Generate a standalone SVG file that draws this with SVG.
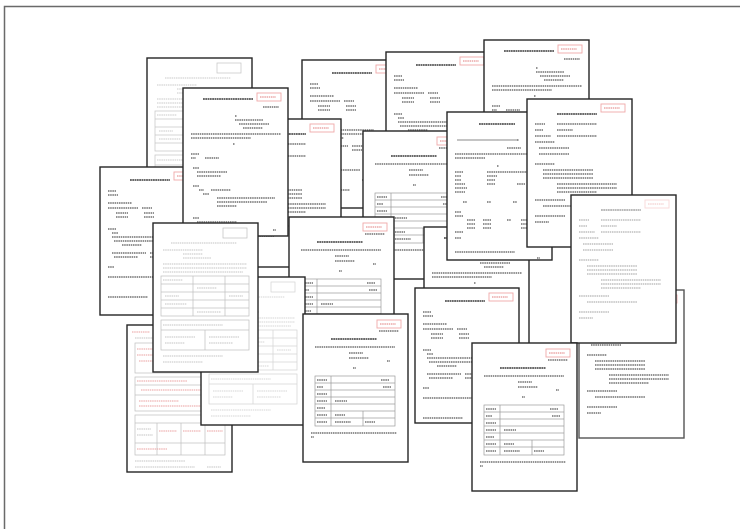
<svg xmlns="http://www.w3.org/2000/svg" xmlns:xlink="http://www.w3.org/1999/xlink" width="740" height="529" viewBox="0 0 740 529">
<style>
.pg{fill:#fff;stroke:#262626;stroke-width:1.4}
.t{fill:none;stroke:#707070;stroke-width:1.3;stroke-dasharray:1.5 .7}
.h{fill:none;stroke:#3a3a3a;stroke-width:1.6;stroke-dasharray:1.8 .5}
.st{fill:none;stroke:#f0a8a8;stroke-width:.9}
.sr{fill:none;stroke:#e07a7a;stroke-width:1;stroke-dasharray:1.5 .7}
.g{fill:none;stroke:#9a9a9a;stroke-width:.7}
.f{fill:none;stroke:#c4c4c4;stroke-width:1.2;stroke-dasharray:1.5 .7}
.fb{fill:none;stroke:#bdbdbd;stroke-width:.7}
.r{fill:none;stroke:#eaa0a0;stroke-width:1.1;stroke-dasharray:1.5 .7}
.bar{fill:none;stroke:#c4c4c4;stroke-width:2}
.frame{fill:none;stroke:#6a6a6a;stroke-width:1.5}
</style>
<defs>
<g id="tA">
<rect class="st" x="74" y="5" width="24" height="8"/><path class="sr" d="M77 9h16"/>
<path class="h" d="M20 11h50"/>
<path class="t" d="M80 19h16M52 28h2M52 32h28M56 36h30M60 40h20M8 46h90M8 50h60M50 56h2M8 66h8M8 70h5M22 70h14M10 80h6M14 84h30M14 88h24M10 98h6M16 102h5M28 102h20M20 106h6M34 110h58M34 114h50M34 118h20M10 130h6M14 134h40M90 142h3"/>
</g>
<g id="tB">
<rect class="st" x="74" y="5" width="24" height="8"/><path class="sr" d="M77 9h16"/>
<path class="h" d="M30 13h40"/>
<path class="t" d="M8 24h8M8 28h10M8 36h24M8 41h30M42 41h10M16 46h12M44 46h10M16 50h12M44 50h10M8 62h8M12 66h6M12 70h60M14 74h48M22 78h20M12 86h34M50 86h20M14 90h24M50 90h10M8 100h6M8 110h50M60 120h30M8 130h40"/>
</g>
<g id="tC">
<rect class="st" x="74" y="6" width="24" height="8"/><path class="sr" d="M77 10h16"/>
<path class="t" d="M76 17h20"/>
<path class="h" d="M28 25h46"/>
<path class="t" d="M12 33h80M46 39h14M46 44h20M84 47h3M50 54h3"/>
<rect class="g" x="12" y="62" width="80" height="50"/>
<path class="g" d="M12 69h80M12 76h80M12 83h80M12 90h80M12 97h80M12 104h80M28 62v50M60 97v15"/>
<path class="t" d="M14 66h10M14 73h6M14 80h10M14 87h10M14 94h8M14 101h10M14 108h10M32 87h12M32 101h10M32 108h16M62 108h10M78 66h8M80 73h8"/>
<path class="t" d="M8 119h86M8 123h3"/>
</g>
<g id="tD">
<rect class="fb" x="70" y="5" width="24" height="10"/>
<path class="f" d="M18 20h66M10 27h40M30 31h20M30 35h28M10 41h84M10 45h84M10 49h80"/>
<rect class="fb" x="8" y="53" width="88" height="40"/>
<path class="fb" d="M8 61h88M8 69h88M8 77h88M8 85h88M40 53v40M72 53v40"/>
<path class="f" d="M10 57h20M44 65h20M12 73h14M76 73h14M12 81h22M44 89h24"/>
<rect class="fb" x="8" y="97" width="88" height="30"/>
<path class="fb" d="M8 107h88M52 107v20"/>
<path class="f" d="M10 102h60M12 114h30M56 114h30M12 120h20M56 120h24M10 133h60M10 139h40"/>
</g>
<g id="tE">
<path class="r" d="M5 7h18M28 7h34"/>
<path class="f" d="M8 13h60"/>
<rect class="fb" x="8" y="18" width="90" height="30"/>
<path class="r" d="M10 24h40M10 30h70M12 36h60M30 42h40"/>
<rect class="fb" x="8" y="52" width="90" height="34"/>
<path class="fb" d="M8 60h90M8 70h90"/>
<path class="r" d="M10 56h50M14 65h60M12 76h40M12 81h70"/>
<rect class="fb" x="8" y="90" width="90" height="40"/>
<path class="fb" d="M8 98h90M30 98v32M54 98v32M78 98v32M8 118h90"/>
<path class="r" d="M32 106h18M56 106h18M80 106h16M10 124h30"/>
<path class="f" d="M10 104h14M10 110h16M8 136h50M8 142h60M80 142h14"/>
</g>
<g id="tF">
<path class="h" d="M32 12h36"/>
<path class="bar" d="M10 28h60"/>
<path class="t" d="M70 28h2M60 36h14M8 42h90M8 46h30M50 54h2M8 60h8M8 64h6M8 68h6M8 72h10M8 76h12M8 80h10M40 60h50M40 64h10M40 68h8M40 72h8M70 72h8M16 90h4M40 90h4M66 90h4M8 100h6M8 104h8M20 108h8M36 108h8M60 108h4M74 108h20M20 112h8M36 112h8M74 112h20M20 116h8M36 116h8M74 116h20M8 120h8M8 126h6M8 140h60M90 146h3"/>
</g>
<g id="tG">
<rect class="st" x="74" y="5" width="24" height="8"/><path class="sr" d="M77 9h16"/>
<path class="h" d="M30 15h40"/>
<path class="t" d="M8 25h10M30 25h40M8 31h8M30 31h16M8 37h16M30 37h40M8 43h20M12 49h30M12 55h30M8 65h20M16 71h50M16 75h50M16 79h50M30 85h60M30 89h60M30 93h40M8 101h30M16 107h50M8 117h30M8 123h14"/>
</g>
</defs>

<path class="frame" d="M4.5 529V6.5H740"/>

<g id="p1" transform="translate(147,58)"><rect class="pg" width="105" height="148"/><use href="#tD" opacity=".9"/></g>
<g id="p3" transform="translate(100,167)"><rect class="pg" width="105" height="148"/><use href="#tB"/></g>
<g id="p5" transform="translate(302,60)"><rect class="pg" width="105" height="148"/><use href="#tB"/></g>
<g id="p4" transform="translate(236,119)"><rect class="pg" width="105" height="148"/><use href="#tG"/></g>
<g id="p2" transform="translate(183,88)"><rect class="pg" width="105" height="148"/><use href="#tA"/></g>
<g id="p6" transform="translate(386,52)"><rect class="pg" width="105" height="148"/><use href="#tB"/></g>
<g id="p8" transform="translate(484,40)"><rect class="pg" width="105" height="148"/><use href="#tA"/></g>
<g id="p7" transform="translate(363,131)"><rect class="pg" width="105" height="148"/><use href="#tC"/></g>
<g id="p13" transform="translate(424,227)"><rect class="pg" width="105" height="148"/><use href="#tA"/></g>
<g id="p9" transform="translate(447,112)"><rect class="pg" width="105" height="148"/><use href="#tF"/></g>
<g id="p10" transform="translate(527,99)"><rect class="pg" width="105" height="148"/><use href="#tG"/></g>
<g id="p12" transform="translate(579,290)"><rect class="pg" width="105" height="148" style="stroke:#555"/><use href="#tG"/></g>
<g id="p11" transform="translate(571,195)"><rect class="pg" width="105" height="148"/><use href="#tG" opacity=".45"/></g>
<g id="p16" transform="translate(289,217)"><rect class="pg" width="105" height="148"/><use href="#tC"/></g>
<g id="p20" transform="translate(127,325)"><rect class="pg" width="105" height="147"/><use href="#tE"/></g>
<g id="p19" transform="translate(201,277)"><rect class="pg" width="104" height="148"/><use href="#tD" opacity=".7"/></g>
<g id="p18" transform="translate(153,223)"><rect class="pg" width="105" height="149"/><use href="#tD"/></g>
<g id="p17" transform="translate(303,314)"><rect class="pg" width="105" height="148"/><use href="#tC"/></g>
<g id="p14" transform="translate(415,288)"><rect class="pg" width="104" height="135"/><use href="#tB"/></g>
<g id="p15" transform="translate(472,343)"><rect class="pg" width="105" height="148"/><use href="#tC"/></g>
</svg>
